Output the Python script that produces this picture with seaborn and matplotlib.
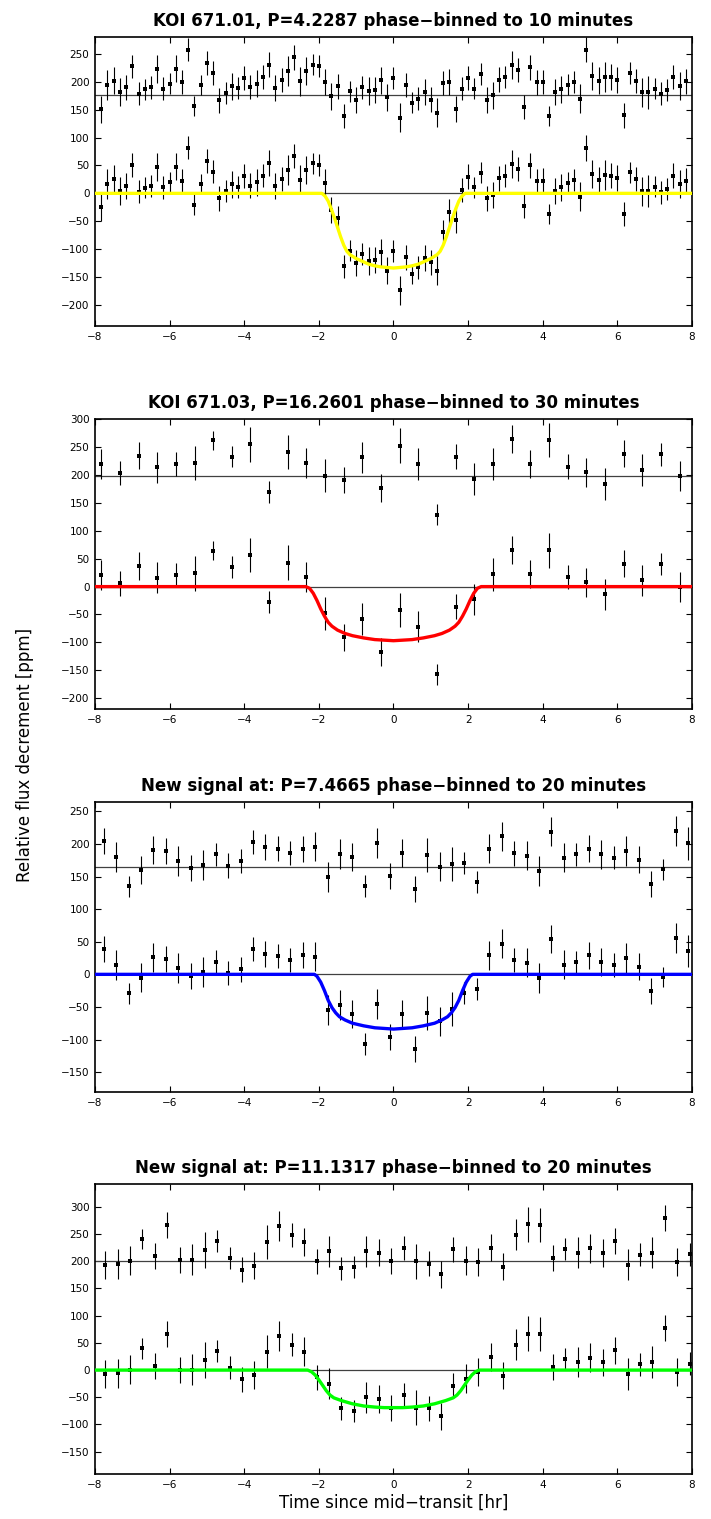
import numpy as np
import pandas as pd
import seaborn as sns
import matplotlib.pyplot as plt

# %% panel 1 - KOI 671.01
p1_title = 'KOI 671.01, P=4.2287 phase−binned to 10 minutes'
p1_time = -8 + np.arange(1, 96) / 6
p1_flux = [-25, 17, 26, 4, 13, 51, 3, 10, 13, 47, 11, 20, 48, 23, 82, -20, 17, 58, 39, -9,
           4, 16, 11, 31, 14, 20, 32, 54, 13, 26, 42, 67, 24, 42, 54, 51, 19, -30, -45, -131,
           -103, -125, -109, -121, -120, -106, -139, -103, -174, -115, -145, -133, -116, -124, -139, -69, -34, -48, 6, 30,
           11, 37, -9, -3, 27, 32, 53, 44, -22, 50, 22, 23, -37, 4, 11, 19, 24, -6, 81, 35,
           24, 33, 32, 27, -37, 38, 26, 4, 4, 12, 2, 8, 32, 17, 23]
p1_resid = [151, 194, 202, 182, 190, 228, 179, 187, 190, 223, 188, 197, 224, 200, 258, 157, 194, 234, 216, 167,
            180, 192, 189, 207, 191, 197, 209, 231, 189, 203, 219, 244, 201, 219, 231, 228, 200, 174, 192, 139,
            183, 167, 190, 183, 186, 203, 172, 207, 136, 194, 163, 170, 182, 168, 145, 198, 200, 151, 188, 207,
            188, 214, 168, 176, 204, 209, 230, 221, 155, 226, 199, 200, 139, 182, 187, 195, 200, 170, 258, 211,
            202, 209, 209, 203, 140, 216, 202, 181, 181, 188, 179, 186, 209, 192, 201]
p1_err = [24, 27, 24, 25, 23, 21, 21, 19, 20, 25, 21, 19, 24, 21, 21, 18, 18, 22, 21, 22,
          20, 24, 20, 22, 22, 24, 21, 23, 24, 22, 27, 22, 26, 25, 19, 20, 24, 24, 23, 21,
          19, 23, 20, 25, 23, 24, 24, 20, 26, 22, 18, 20, 23, 22, 26, 21, 24, 23, 21, 22,
          19, 19, 23, 24, 22, 20, 25, 21, 22, 22, 22, 22, 18, 23, 24, 19, 20, 26, 23, 25,
          24, 27, 23, 23, 22, 19, 22, 26, 29, 19, 21, 20, 22, 25, 23]
p1_offset = 176
# half of the (symmetric) transit model, ingress side
p1_model_t = [-1.92, -1.833, -1.75, -1.667, -1.583, -1.5, -1.417, -1.333, -1.25, -1.167, -1.0, -0.833, -0.667, -0.5, -0.333, -0.167, 0]
p1_model_f = [0, -5, -14, -28, -44, -61, -78, -93, -104, -110, -117, -122, -127, -130, -132, -133, -134]
p1_ylim = (-238, 280)
p1_yticks = range(-200, 251, 50)

# %% panel 2 - KOI 671.03
p2_title = 'KOI 671.03, P=16.2601 phase−binned to 30 minutes'
p2_time = -7.833 + np.arange(32) * 0.5
p2_flux = [21, 6, 37, 16, 21, 24, 64, 35, 57, -27, 43, 18, -48, -91, -58, -118,
           -42, -72, -157, -36, -23, 22, 66, 22, 65, 17, 8, -14, 41, 11, 40, -1]
p2_resid = [220, 204, 235, 214, 220, 222, 262, 233, 255, 170, 241, 221, 199, 191, 232, 177,
            253, 220, 129, 233, 193, 220, 264, 220, 263, 215, 205, 184, 238, 209, 237, 199]
p2_err = [27, 22, 25, 28, 22, 31, 17, 19, 31, 20, 31, 27, 30, 24, 28, 25,
          31, 28, 19, 22, 28, 29, 25, 25, 31, 22, 26, 28, 24, 28, 20, 27]
p2_offset = 199
p2_model_t = [-2.35, -2.25, -2.15, -2.05, -1.95, -1.85, -1.75, -1.65, -1.5, -1.3, -1.1, -0.8, -0.5, -0.25, 0]
p2_model_f = [0, -3, -12, -25, -40, -53, -64, -71, -78, -84, -88, -92, -95, -96, -97]
p2_ylim = (-220, 300)
p2_yticks = range(-200, 301, 50)

# %% panel 3 - new signal P=7.4665
p3_title = 'New signal at: P=7.4665 phase−binned to 20 minutes'
p3_time = -7.767 + np.arange(48) / 3
p3_flux = [39, 15, -29, -5, 26, 24, 9, -2, 3, 19, 2, 8, 39, 31, 28, 22, 29, 27, -54, -47, -61, -107, -45, -96,
           -61, -115, -59, -72, -53, -28, -23, 29, 47, 22, 18, -5, 54, 15, 19, 29, 19, 14, 25, 12, -26, -4, 56, 36]
p3_resid = [205, 180, 135, 160, 191, 189, 174, 163, 168, 184, 167, 174, 203, 196, 193, 186, 193, 196, 149, 184, 180, 136, 202, 151,
            186, 131, 183, 165, 169, 171, 142, 193, 212, 186, 182, 159, 219, 179, 184, 193, 184, 179, 190, 176, 139, 161, 220, 201]
p3_err = [20, 23, 16, 22, 22, 20, 23, 20, 23, 18, 19, 19, 19, 20, 19, 18, 20, 22, 23, 23, 22, 17, 23, 20,
          22, 20, 26, 22, 26, 17, 17, 22, 22, 19, 22, 23, 22, 22, 17, 21, 22, 18, 23, 21, 20, 16, 23, 25]
p3_offset = 165
p3_model_t = [-2.12, -2.05, -1.95, -1.85, -1.75, -1.65, -1.55, -1.45, -1.3, -1.1, -0.8, -0.5, -0.25, 0]
p3_model_f = [0, -3, -12, -25, -40, -51, -59, -65, -70, -75, -79, -82, -83, -84]
p3_ylim = (-181, 264)
p3_yticks = range(-150, 251, 50)

# %% panel 4 - new signal P=11.1317
p4_title = 'New signal at: P=11.1317 phase−binned to 20 minutes'
p4_time = -7.727 + np.arange(48) / 3
p4_flux = [-7, -6, 1, 40, 8, 66, 0, 1, 18, 35, 4, -17, -9, 34, 63, 47, 34, -13, -25, -70, -75, -50, -53, -69,
           -45, -69, -70, -85, -29, -16, -4, 24, -10, 47, 67, 66, 5, 21, 15, 23, 14, 36, -7, 11, 15, 77, -3, 12]
p4_resid = [193, 195, 201, 241, 210, 267, 202, 203, 221, 237, 206, 184, 192, 236, 265, 249, 236, 200, 218, 187, 189, 218, 216, 201,
            224, 200, 195, 176, 222, 201, 198, 225, 190, 249, 268, 267, 206, 222, 216, 224, 215, 237, 194, 212, 216, 280, 199, 213]
p4_err = [26, 27, 27, 19, 24, 24, 24, 29, 33, 20, 21, 23, 25, 31, 28, 22, 26, 23, 28, 21, 20, 29, 25, 24,
          22, 32, 23, 25, 23, 27, 26, 25, 25, 28, 32, 31, 24, 20, 28, 27, 25, 24, 29, 21, 29, 24, 26, 21]
p4_offset = 201
p4_model_t = [-2.3, -2.2, -2.1, -2.0, -1.9, -1.8, -1.7, -1.6, -1.4, -1.1, -0.8, -0.5, -0.25, 0]
p4_model_f = [0, -3, -9, -18, -28, -38, -46, -51, -56, -62, -66, -68, -69, -69]
p4_ylim = (-191, 342)
p4_yticks = range(-150, 301, 50)

panels = [
    dict(title=p1_title, time=p1_time, flux=p1_flux, resid=p1_resid, err=p1_err, offset=p1_offset,
         mt=p1_model_t, mf=p1_model_f, ylim=p1_ylim, yticks=p1_yticks, color='#ffff00'),
    dict(title=p2_title, time=p2_time, flux=p2_flux, resid=p2_resid, err=p2_err, offset=p2_offset,
         mt=p2_model_t, mf=p2_model_f, ylim=p2_ylim, yticks=p2_yticks, color='#ff0000'),
    dict(title=p3_title, time=p3_time, flux=p3_flux, resid=p3_resid, err=p3_err, offset=p3_offset,
         mt=p3_model_t, mf=p3_model_f, ylim=p3_ylim, yticks=p3_yticks, color='#0000ff'),
    dict(title=p4_title, time=p4_time, flux=p4_flux, resid=p4_resid, err=p4_err, offset=p4_offset,
         mt=p4_model_t, mf=p4_model_f, ylim=p4_ylim, yticks=p4_yticks, color='#00ff00'),
]

# %%
sns.set_style('ticks')
plt.rcParams['font.family'] = ['DejaVu Sans']
plt.rcParams.update({
    'text.color': 'black', 'axes.labelcolor': 'black', 'axes.edgecolor': 'black',
    'xtick.color': 'black', 'ytick.color': 'black',
})

fig = plt.figure(figsize=(7.11, 15.19), dpi=100)
H = 1519
W = 711
tops = [37.3, 419.3, 802.3, 1184]
bottoms = [326, 709.3, 1092.3, 1474]

for i, p in enumerate(panels):
    ax = fig.add_axes([95 / W, 1 - bottoms[i] / H, 597 / W, (bottoms[i] - tops[i]) / H])

    ax.axhline(p['offset'], color='0.25', lw=0.9, zorder=1)
    ax.axhline(0, color='0.25', lw=0.9, zorder=1)

    for y in (p['flux'], p['resid']):
        ax.errorbar(p['time'], y, yerr=p['err'], fmt='none', ecolor='k', elinewidth=0.8, capsize=0, zorder=2)

    df = pd.DataFrame({
        't': np.concatenate([p['time'], p['time']]),
        'f': np.concatenate([p['flux'], p['resid']]),
    })
    sns.scatterplot(data=df, x='t', y='f', ax=ax, color='k', s=5, marker='s', linewidth=0, zorder=3)

    hx = np.array(p['mt'])
    hy = np.array(p['mf'])
    mx = np.concatenate([[-8], hx, -hx[::-1][1:], [8]])
    my = np.concatenate([[0], hy, hy[::-1][1:], [0]])
    sns.lineplot(x=mx, y=my, ax=ax, color=p['color'], lw=2.4, sort=False, estimator=None, zorder=4)

    ax.set_xlim(-8, 8)
    ax.set_xticks(range(-8, 9, 2))
    ax.set_ylim(*p['ylim'])
    ax.set_yticks(list(p['yticks']))
    ax.tick_params(direction='in', top=True, right=True, length=4, width=0.8, labelsize=7.5, pad=4)
    for s in ax.spines.values():
        s.set_linewidth(1.2)
    ax.set_title(p['title'], fontsize=12, fontweight='bold', pad=8)
    ax.set_ylabel('')
    ax.set_xlabel('')

ax.set_xlabel('Time since mid−transit [hr]', fontsize=12, labelpad=3)
fig.text(25 / W, 1 - 755 / H, 'Relative flux decrement [ppm]', rotation=90,
         ha='center', va='center', fontsize=12)

plt.savefig('out.png', dpi=100, facecolor='white')
